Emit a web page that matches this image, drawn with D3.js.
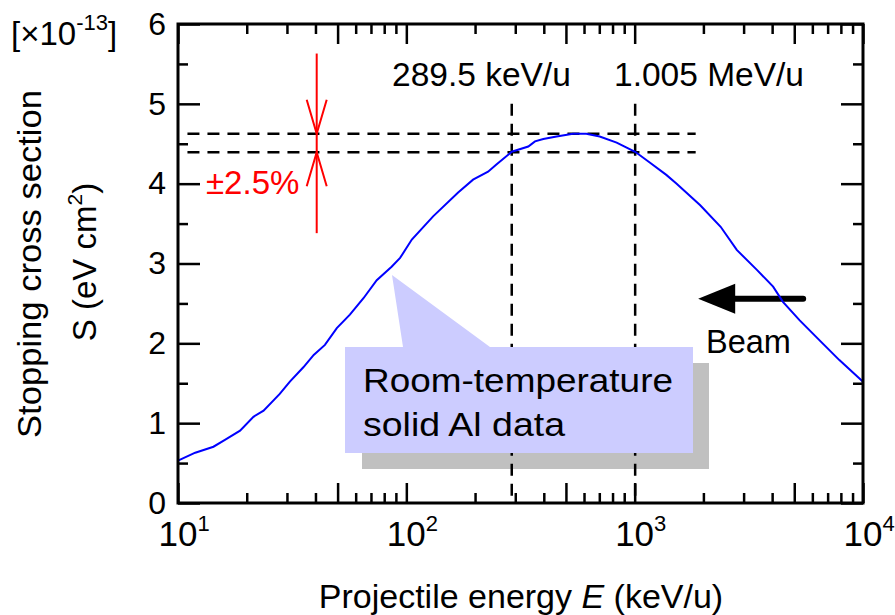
<!DOCTYPE html>
<html>
<head>
<meta charset="utf-8">
<script src="https://cdn.jsdelivr.net/npm/d3@7"></script>
<style>
  body { margin: 0; background: #fff; }
  svg { display: block; font-family: "Liberation Sans", Arial, Helvetica, sans-serif; }
</style>
</head>
<body>
<svg id="chart" width="895" height="615"></svg>
<script>
// Stopping cross section of Al versus projectile energy
const energy = [10, 11.9, 14.3, 16.05, 18.7, 21.4, 23.7, 27.9, 30.9, 35.4, 39.3, 44, 49.6, 56.6,
  64.9, 74.2, 86.2, 93.9, 105.7, 131, 168.6, 196, 228, 248, 289.5, 342, 366, 398, 455, 537,
  614, 703, 834, 1005, 1164, 1376, 1527, 1937, 2380, 2800, 3430, 4040, 4460, 5270, 6440,
  7880, 10000];
const stopping = [0.53, 0.63, 0.705, 0.79, 0.906, 1.08, 1.157, 1.366, 1.52, 1.70, 1.855, 1.98,
  2.19, 2.36, 2.565, 2.79, 2.96, 3.07, 3.30, 3.59, 3.89, 4.05, 4.15, 4.24, 4.40, 4.465, 4.53,
  4.56, 4.59, 4.625, 4.625, 4.59, 4.515, 4.40, 4.265, 4.11, 4.0, 3.73, 3.46, 3.17, 2.92, 2.71,
  2.52, 2.29, 2.04, 1.79, 1.52];

// Energy window where S stays within ±2.5% of its mean near the peak
const windowEnergies = [289.5, 1005];
const windowLabels = ["289.5 keV/u", "1.005 MeV/u"];
const sBand = [4.625, 4.394];
const bandEnergyRange = [11, 1850];
const windowTop = 5.0;
const errorEnergy = 40.5;
const errorRange = [5.63, 3.38];
const beamStart = 5470, beamEnd = 1897, beamS = 2.56;

const xDecades = [10, 100, 1000, 10000];
const xDecadeExp = ["1", "2", "3", "4"];
const yMajor = [0, 1, 2, 3, 4, 5, 6];
const yMinor = [0.5, 1.5, 2.5, 3.5, 4.5, 5.5];

const svg = d3.select("#chart");
const plotLeft = 178, plotRight = 863, plotTop = 24, plotBottom = 503;
const x = d3.scaleLog().domain([10, 1e4]).range([plotLeft, plotRight]);
const y = d3.scaleLinear().domain([0, 6]).range([plotBottom, plotTop]);

// tick sets: decades and 5x get long ticks
const xMajor = [], xMinor = [];
for (let d = 10; d < 1e4; d *= 10) {
  for (let k = 1; k <= 9; k++) {
    const v = d * k;
    if (k === 1 || k === 5) xMajor.push(v); else xMinor.push(v);
  }
}
xMajor.push(1e4);

// callout shadow (behind everything)
svg.append("rect").attr("x", 362).attr("y", 363).attr("width", 347).attr("height", 106)
  .attr("fill", "#c0c0c0");

// reference dashed lines
const dash = "12,8";
sBand.forEach(s => {
  svg.append("line")
    .attr("x1", x(bandEnergyRange[0])).attr("x2", x(bandEnergyRange[1]))
    .attr("y1", y(s)).attr("y2", y(s))
    .attr("stroke", "#000").attr("stroke-width", 2.5).attr("stroke-dasharray", dash);
});
windowEnergies.forEach(e => {
  svg.append("line")
    .attr("x1", x(e)).attr("x2", x(e))
    .attr("y1", y(windowTop)).attr("y2", y(0))
    .attr("stroke", "#000").attr("stroke-width", 2.5).attr("stroke-dasharray", dash);
});
windowLabels.forEach((t, i) => {
  svg.append("text").attr("x", [392, 614][i]).attr("y", 86)
    .attr("font-size", 33.5).attr("fill", "#000").text(t);
});

// beam arrow
const by = y(beamS);
svg.append("line").attr("x1", x(beamStart)).attr("x2", x(beamEnd) + 36)
  .attr("y1", by).attr("y2", by)
  .attr("stroke", "#000").attr("stroke-width", 6).attr("stroke-linecap", "round");
svg.append("path")
  .attr("d", `M${x(beamEnd)},${by} L${x(beamEnd) + 37},${by - 15} L${x(beamEnd) + 37},${by + 15} Z`)
  .attr("fill", "#000");
svg.append("text").attr("x", 706).attr("y", 353).attr("font-size", 32.5).text("Beam");

// data curve
const line = d3.line().x(d => x(d[0])).y(d => y(d[1]));
svg.append("path")
  .datum(energy.map((e, i) => [e, stopping[i]]))
  .attr("d", line)
  .attr("fill", "none").attr("stroke", "#0000ff").attr("stroke-width", 2);

// callout box with pointer
svg.append("path")
  .attr("d", "M345,347 L403,347 L392,275 L490,347 L693,347 L693,453 L345,453 Z")
  .attr("fill", "#ccccff");
svg.append("text").attr("x", 363).attr("y", 392).attr("font-size", 34)
  .attr("textLength", 310).attr("lengthAdjust", "spacingAndGlyphs").text("Room-temperature");
svg.append("text").attr("x", 363).attr("y", 436).attr("font-size", 34)
  .attr("textLength", 202).attr("lengthAdjust", "spacingAndGlyphs").text("solid Al data");

// ±2.5% error marker
const red = "#ff0000";
const ex = x(errorEnergy);
svg.append("line").attr("x1", ex).attr("x2", ex)
  .attr("y1", y(errorRange[0])).attr("y2", y(errorRange[1]))
  .attr("stroke", red).attr("stroke-width", 2);
svg.append("path")
  .attr("d", `M${ex - 10},${y(sBand[0]) - 34} L${ex},${y(sBand[0])} L${ex + 10},${y(sBand[0]) - 34}`)
  .attr("fill", "none").attr("stroke", red).attr("stroke-width", 2);
svg.append("path")
  .attr("d", `M${ex - 10},${y(sBand[1]) + 34} L${ex},${y(sBand[1])} L${ex + 10},${y(sBand[1]) + 34}`)
  .attr("fill", "none").attr("stroke", red).attr("stroke-width", 2);
svg.append("text").attr("x", 206).attr("y", 194).attr("font-size", 33)
  .attr("fill", red).text("±2.5%");

// axes with inward ticks on all four sides
function styleAxis(g) {
  g.select(".domain").remove();
  g.selectAll(".tick line").attr("stroke", "#000").attr("stroke-width", 2.5);
}
svg.append("g").attr("transform", `translate(0,${plotBottom})`)
  .call(d3.axisBottom(x).tickValues(xMajor).tickSize(-20).tickFormat("")).call(styleAxis);
svg.append("g").attr("transform", `translate(0,${plotBottom})`)
  .call(d3.axisBottom(x).tickValues(xMinor).tickSize(-10).tickFormat("")).call(styleAxis);
svg.append("g").attr("transform", `translate(0,${plotTop})`)
  .call(d3.axisTop(x).tickValues(xMajor).tickSize(-20).tickFormat("")).call(styleAxis);
svg.append("g").attr("transform", `translate(0,${plotTop})`)
  .call(d3.axisTop(x).tickValues(xMinor).tickSize(-10).tickFormat("")).call(styleAxis);

const yLeft = svg.append("g").attr("transform", `translate(${plotLeft},0)`)
  .call(d3.axisLeft(y).tickValues(yMajor).tickSize(-22).tickPadding(12).tickFormat(d3.format("d")))
  .call(styleAxis);
yLeft.selectAll(".tick text").attr("font-size", 32).attr("fill", "#000")
  .attr("font-family", "Liberation Sans, Arial, sans-serif");
svg.append("g").attr("transform", `translate(${plotLeft},0)`)
  .call(d3.axisLeft(y).tickValues(yMinor).tickSize(-10).tickFormat("")).call(styleAxis);
svg.append("g").attr("transform", `translate(${plotRight},0)`)
  .call(d3.axisRight(y).tickValues(yMajor).tickSize(-22).tickFormat("")).call(styleAxis);
svg.append("g").attr("transform", `translate(${plotRight},0)`)
  .call(d3.axisRight(y).tickValues(yMinor).tickSize(-10).tickFormat("")).call(styleAxis);

// frame
svg.append("rect").attr("x", plotLeft).attr("y", plotTop)
  .attr("width", plotRight - plotLeft).attr("height", plotBottom - plotTop)
  .attr("fill", "none").attr("stroke", "#000").attr("stroke-width", 3);

// x tick labels as powers of ten
xDecades.forEach((d, i) => {
  const t = svg.append("text").attr("y", 546).attr("font-size", 35);
  t.append("tspan").attr("x", x(d) - 19.5).text("10");
  t.append("tspan").attr("dy", -15).attr("font-size", 22).text(xDecadeExp[i]);
});

// exponent marker
const mult = svg.append("text").attr("x", 11).attr("y", 45).attr("font-size", 33);
mult.append("tspan").text("[×10");
mult.append("tspan").attr("dy", -15).attr("font-size", 22).text("-13");
mult.append("tspan").attr("dy", 15).text("]");

// axis titles
const xt = svg.append("text").attr("x", 521).attr("y", 608).attr("font-size", 34)
  .attr("text-anchor", "middle");
xt.append("tspan").text("Projectile energy ");
xt.append("tspan").attr("font-style", "italic").text("E");
xt.append("tspan").text(" (keV/u)");

svg.append("text").attr("transform", "translate(41,264) rotate(-90)")
  .attr("text-anchor", "middle").attr("font-size", 33)
  .attr("textLength", 348).attr("lengthAdjust", "spacingAndGlyphs")
  .text("Stopping cross section");
const yt = svg.append("text").attr("transform", "translate(96,262) rotate(-90)")
  .attr("text-anchor", "middle").attr("font-size", 33);
yt.append("tspan").text("S (eV cm");
yt.append("tspan").attr("dy", -14).attr("font-size", 21).text("2");
yt.append("tspan").attr("dy", 14).text(")");
</script>
</body>
</html>
